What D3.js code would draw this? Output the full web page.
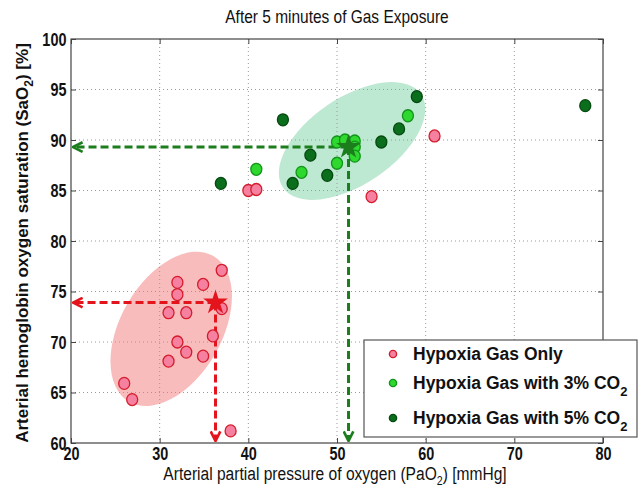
<!DOCTYPE html>
<html>
<head>
<meta charset="utf-8">
<script src="https://cdn.jsdelivr.net/npm/d3@7"></script>
<style>
  body { margin: 0; background: #fff; }
  svg { display: block; }
  .tick text { font-family: "Liberation Sans", Arial, sans-serif; font-weight: bold; font-size: 19px; fill: #111; }
</style>
</head>
<body>
<div id="chart-area"><svg></svg></div>
<script>
const chartSize = { width: 640, height: 489 };
const margin = { left: 71, right: 37, top: 39, bottom: 46 };
const width = chartSize.width - margin.left - margin.right;
const height = chartSize.height - margin.top - margin.bottom;

// [PaO2, SaO2]
const hypoxiaOnly = [
  [37.0, 77.1], [32.0, 75.9], [34.9, 75.7], [32.0, 74.7], [37.0, 73.3],
  [31.0, 72.9], [33.0, 72.9], [36.0, 70.6], [32.0, 70.0], [33.0, 69.0],
  [34.9, 68.6], [31.0, 68.1], [26.0, 65.9], [26.9, 64.3], [38.0, 61.2],
  [40.0, 85.0], [40.9, 85.1], [53.9, 84.4], [61.0, 90.4]
];
const hypoxiaCo2_3 = [
  [40.9, 87.1], [46.0, 86.8], [50.0, 87.7], [50.0, 89.8], [50.9, 90.0],
  [52.0, 89.9], [52.0, 89.3], [52.0, 88.4], [58.0, 92.4]
];
const hypoxiaCo2_5 = [
  [36.9, 85.7], [43.9, 92.0], [45.0, 85.7], [47.0, 88.5], [48.9, 86.5],
  [55.0, 89.8], [57.0, 91.1], [59.0, 94.3], [78.0, 93.4]
];
// group means (stars)
const means = [
  { name: "only", x: 36.3, y: 73.9 },
  { name: "co2", x: 51.3, y: 89.3 }
];
// spread ellipses: centre in data units, semi axes in x-units, angle in degrees
const spreads = [
  { name: "only", x: 31.3, y: 71.3, a: 9.5, b: 5.7, angle: 60 },
  { name: "co2", x: 51.7, y: 89.9, a: 9.4, b: 4.9, angle: 34 }
];
const xTicks = [20, 30, 40, 50, 60, 70, 80];
const yTicks = [60, 65, 70, 75, 80, 85, 90, 95, 100];

const series = [
  { key: "only", data: hypoxiaOnly, fill: "#f5809f", stroke: "#d41c2c", label: "Hypoxia Gas Only", sub: "" },
  { key: "co3", data: hypoxiaCo2_3, fill: "#2ed82e", stroke: "#13941a", label: "Hypoxia Gas with 3% CO", sub: "2" },
  { key: "co5", data: hypoxiaCo2_5, fill: "#0b6e1c", stroke: "#054a10", label: "Hypoxia Gas with 5% CO", sub: "2" }
];
const lineColour = { only: "#e3141c", co2: "#1c7d1c" };
const spreadColour = { only: "#f9bcbc", co2: "#bde8d2" };
const starColour = { only: "#e3141c", co2: "#1c7d1c" };
const sans = "'Liberation Sans', Arial, sans-serif";

const svg = d3.select("#chart-area svg")
  .attr("width", chartSize.width)
  .attr("height", chartSize.height);

const x = d3.scaleLinear().domain([20, 80]).range([0, width]);
const y = d3.scaleLinear().domain([60, 100]).range([height, 0]);

const defs = svg.append("defs");
Object.entries(lineColour).forEach(([k, c]) => {
  defs.append("marker")
    .attr("id", `arrow-${k}`)
    .attr("viewBox", "0 0 10 10")
    .attr("refX", 9).attr("refY", 5)
    .attr("markerWidth", 4).attr("markerHeight", 4)
    .attr("orient", "auto")
    .append("path")
    .attr("d", "M1,1 L9,5 L1,9")
    .attr("fill", "none")
    .attr("stroke", c)
    .attr("stroke-width", 2.2);
});

const g = svg.append("g")
  .attr("transform", `translate(${margin.left},${margin.top})`);

// spread ellipses
g.selectAll(".spread")
  .data(spreads)
  .enter()
  .append("ellipse")
  .attr("class", "spread")
  .attr("rx", d => x(20 + d.a) - x(20))
  .attr("ry", d => x(20 + d.b) - x(20))
  .attr("transform", d => `translate(${x(d.x)},${y(d.y)}) rotate(${-d.angle})`)
  .attr("fill", d => spreadColour[d.name]);

// grid
g.selectAll(".vgrid")
  .data(xTicks.slice(1, -1))
  .enter()
  .append("line")
  .attr("x1", d => x(d)).attr("x2", d => x(d))
  .attr("y1", 0).attr("y2", height)
  .attr("stroke", "#9a9a9a").attr("stroke-width", 1)
  .attr("stroke-dasharray", "1,3");
g.selectAll(".hgrid")
  .data(yTicks.slice(1, -1))
  .enter()
  .append("line")
  .attr("y1", d => y(d)).attr("y2", d => y(d))
  .attr("x1", 0).attr("x2", width)
  .attr("stroke", "#9a9a9a").attr("stroke-width", 1)
  .attr("stroke-dasharray", "1,3");

// axes with inward ticks
g.append("g").attr("transform", `translate(0,${height})`)
  .call(d3.axisBottom(x).tickValues(xTicks).tickSizeInner(-5).tickSizeOuter(0).tickPadding(3));
g.append("g")
  .call(d3.axisLeft(y).tickValues(yTicks).tickSizeInner(-5).tickSizeOuter(0).tickPadding(6));
g.append("g")
  .call(d3.axisTop(x).tickValues(xTicks).tickSizeInner(-5).tickSizeOuter(0).tickFormat(""));
g.append("g").attr("transform", `translate(${width},0)`)
  .call(d3.axisRight(y).tickValues(yTicks).tickSizeInner(-5).tickSizeOuter(0).tickFormat(""));
g.selectAll(".domain").remove();
g.selectAll(".tick line").attr("stroke", "#444");
g.selectAll(".tick text").attr("transform", "scale(0.76,1)");
g.append("rect")
  .attr("width", width).attr("height", height)
  .attr("fill", "none").attr("stroke", "#444").attr("stroke-width", 1.2);

// dashed guide lines from the means to the axes
means.forEach(m => {
  g.append("line")
    .attr("x1", x(m.x)).attr("y1", y(m.y))
    .attr("x2", x(20) + 2).attr("y2", y(m.y))
    .attr("stroke", lineColour[m.name]).attr("stroke-width", 3)
    .attr("stroke-dasharray", "8,4")
    .attr("marker-end", `url(#arrow-${m.name})`);
  g.append("line")
    .attr("x1", x(m.x)).attr("y1", y(m.y))
    .attr("x2", x(m.x)).attr("y2", y(60) - 2)
    .attr("stroke", lineColour[m.name]).attr("stroke-width", 3)
    .attr("stroke-dasharray", "8,4")
    .attr("marker-end", `url(#arrow-${m.name})`);
});

// points
series.forEach(s => {
  g.selectAll(`.pt-${s.key}`)
    .data(s.data)
    .enter()
    .append("ellipse")
    .attr("cx", d => x(d[0]))
    .attr("cy", d => y(d[1]))
    .attr("rx", 5.5).attr("ry", 6)
    .attr("fill", s.fill)
    .attr("stroke", s.stroke)
    .attr("stroke-width", 1.3);
});

// stars
const star = d3.symbol().type(d3.symbolStar).size(190);
g.selectAll(".star")
  .data(means)
  .enter()
  .append("path")
  .attr("d", star)
  .attr("transform", d => `translate(${x(d.x)},${y(d.y)})`)
  .attr("fill", d => starColour[d.name]);

// title and labels
svg.append("text")
  .attr("transform", `translate(${margin.left + width / 2},23) scale(0.86,1)`)
  .attr("text-anchor", "middle")
  .style("font-family", sans)
  .style("font-size", "18px").style("fill", "#111")
  .text("After 5 minutes of Gas Exposure");

const xl = svg.append("text")
  .attr("transform", `translate(${margin.left + width / 2 - 2},480) scale(0.82,1)`)
  .attr("text-anchor", "middle")
  .style("font-family", sans)
  .style("font-size", "19px").style("fill", "#111");
xl.append("tspan").text("Arterial partial pressure of oxygen (PaO");
xl.append("tspan").attr("dy", 5).style("font-size", "13px").text("2");
xl.append("tspan").attr("dy", -5).text(") [mmHg]");

const yl = svg.append("text")
  .attr("transform", `translate(28,${margin.top + height / 2 + 2}) rotate(-90)`)
  .attr("text-anchor", "middle")
  .style("font-family", sans)
  .style("font-weight", "bold")
  .style("font-size", "17px").style("fill", "#111");
yl.append("tspan").text("Arterial hemoglobin oxygen saturation (SaO");
yl.append("tspan").attr("dy", 5).style("font-size", "12px").text("2");
yl.append("tspan").attr("dy", -5).text(")  [%]");

// legend
const legend = svg.append("g").attr("transform", "translate(364,340)");
legend.append("rect")
  .attr("width", 273).attr("height", 97)
  .attr("fill", "#fff").attr("stroke", "#555").attr("stroke-width", 1.2);
const rows = legend.selectAll(".row")
  .data(series)
  .enter()
  .append("g")
  .attr("transform", (d, i) => `translate(0,${[14, 43, 78][i]})`);
rows.append("circle")
  .attr("cx", 29).attr("r", 3.6)
  .attr("fill", d => d.fill).attr("stroke", d => d.stroke).attr("stroke-width", 1.4);
const lt = rows.append("text")
  .attr("x", 49).attr("y", 6)
  .style("font-family", sans)
  .style("font-weight", "bold").style("font-size", "17.5px").style("fill", "#111");
lt.append("tspan").text(d => d.label);
lt.append("tspan").attr("dy", 7).style("font-size", "13px").text(d => d.sub);
</script>
</body>
</html>
